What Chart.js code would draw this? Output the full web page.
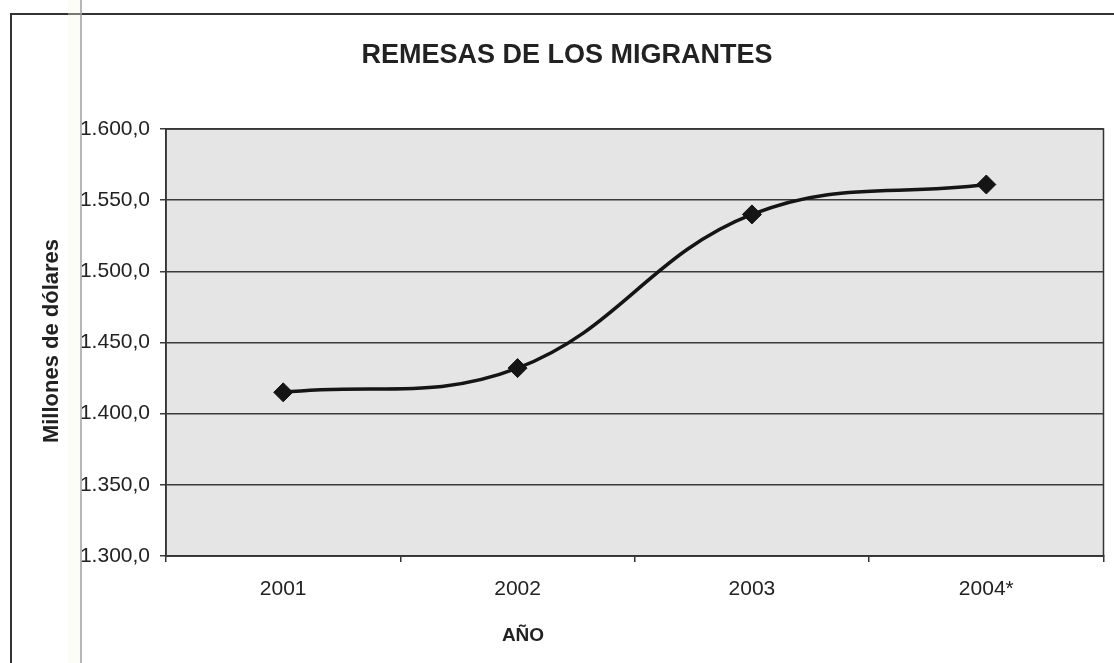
<!DOCTYPE html>
<html>
<head>
<meta charset="utf-8">
<script src="https://cdn.jsdelivr.net/npm/chart.js@4.4.1/dist/chart.umd.min.js"></script>
<style>
  html, body { margin: 0; padding: 0; background: #ffffff; }
  #wrap { width: 1114px; height: 663px; position: relative; }
</style>
</head>
<body>
<div id="wrap"><canvas id="c" width="1114" height="663"></canvas></div>
<script>
// Remittances, millions of dollars
const years = ['2001', '2002', '2003', '2004*'];
const remesas = [1415, 1432, 1540, 1561];
const yMin = 1300;
const yMax = 1600;
const yStep = 50;
const titleText = 'REMESAS DE LOS MIGRANTES';
const yTitleText = 'Millones de dólares';
const xTitleText = 'AÑO';

const FONT = '"Liberation Sans", Arial, Helvetica, sans-serif';

// 1600 -> "1.600,0"
function fmt(v) {
  const [int, dec] = v.toFixed(1).split('.');
  return int.replace(/\B(?=(\d{3})+(?!\d))/g, '.') + ',' + dec;
}

const decor = {
  id: 'decor',
  beforeDraw(chart) {
    const { ctx, chartArea: a } = chart;
    ctx.save();
    // page frame
    ctx.strokeStyle = '#333333';
    ctx.lineWidth = 2;
    ctx.beginPath();
    ctx.moveTo(11, 663);
    ctx.lineTo(11, 14);
    ctx.lineTo(1114, 14);
    ctx.stroke();
    // plot background
    ctx.fillStyle = '#e5e5e5';
    ctx.fillRect(a.left, a.top, a.right - a.left, a.bottom - a.top);
    ctx.restore();
  },
  afterDraw(chart) {
    const { ctx, chartArea: a } = chart;
    ctx.save();
    // plot frame
    ctx.strokeStyle = '#333333';
    ctx.lineWidth = 1.5;
    ctx.strokeRect(a.left, a.top, a.right - a.left, a.bottom - a.top);

    // texts
    ctx.fillStyle = '#222222';
    ctx.textAlign = 'center';
    ctx.textBaseline = 'middle';
    ctx.font = 'bold 27px ' + FONT;
    ctx.fillText(titleText, 567, 56);
    ctx.font = 'bold 19px ' + FONT;
    ctx.fillText(xTitleText, 523, 636);
    ctx.translate(52, 341);
    ctx.rotate(-Math.PI / 2);
    ctx.font = 'bold 22px ' + FONT;
    ctx.fillText(yTitleText, 0, 0);
    ctx.setTransform(1, 0, 0, 1, 0, 0);

    // binding strip
    ctx.fillStyle = 'rgba(250,250,232,0.35)';
    ctx.fillRect(68, 0, 12, 663);
    ctx.strokeStyle = 'rgba(165,165,165,0.8)';
    ctx.lineWidth = 2;
    ctx.beginPath();
    ctx.moveTo(81, 0);
    ctx.lineTo(81, 663);
    ctx.stroke();
    ctx.restore();
  }
};

new Chart(document.getElementById('c'), {
  type: 'line',
  data: {
    labels: years,
    datasets: [{
      data: remesas,
      borderColor: '#151515',
      borderWidth: 3.5,
      tension: 0.4,
      pointStyle: 'rectRot',
      pointRadius: 9.5,
      pointBackgroundColor: '#151515',
      pointBorderColor: '#151515',
      pointBorderWidth: 1
    }]
  },
  options: {
    responsive: false,
    animation: false,
    devicePixelRatio: 1,
    layout: { padding: { left: 0, top: 129, right: 7, bottom: 0 } },
    plugins: {
      legend: { display: false },
      title: { display: false },
      tooltip: { enabled: false }
    },
    scales: {
      x: {
        type: 'category',
        offset: true,
        afterFit(scale) { scale.height = 107; },
        grid: {
          offset: true,
          drawOnChartArea: false,
          drawTicks: true,
          tickLength: 6,
          color: '#333333',
          lineWidth: 1.5
        },
        border: { display: true, color: '#333333', width: 1.5 },
        ticks: {
          color: '#222222',
          font: { family: FONT, size: 21 },
          padding: 15,
          maxRotation: 0
        }
      },
      y: {
        min: yMin,
        max: yMax,
        afterFit(scale) { scale.width = 166; },
        grid: {
          color: '#3a3a3a',
          lineWidth: 1.5,
          drawTicks: true,
          tickLength: 6
        },
        border: { display: true, color: '#333333', width: 1.5 },
        ticks: {
          stepSize: yStep,
          color: '#222222',
          font: { family: FONT, size: 21 },
          padding: 10,
          callback: (v) => fmt(v)
        }
      }
    }
  },
  plugins: [decor]
});
</script>
</body>
</html>
